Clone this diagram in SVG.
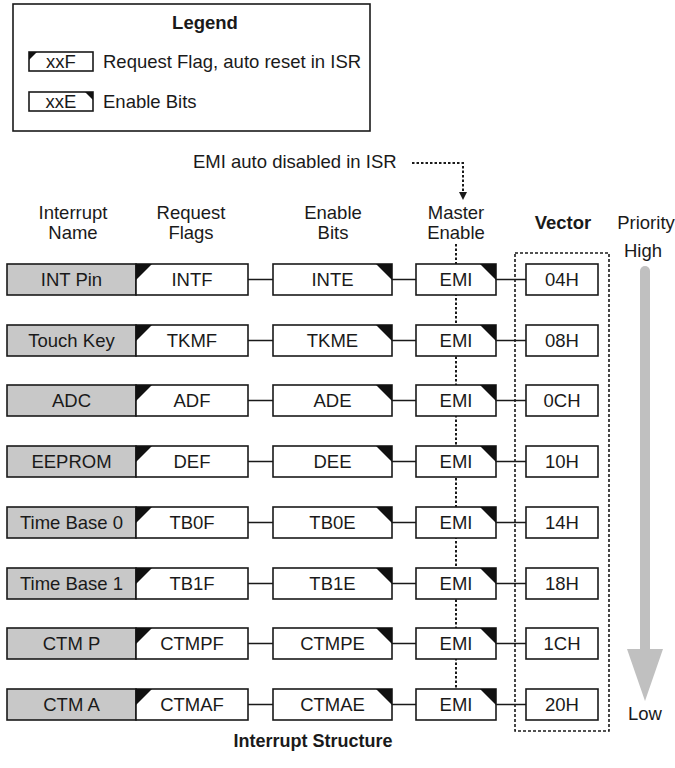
<svg xmlns="http://www.w3.org/2000/svg" width="675" height="768" viewBox="0 0 675 768">
<style>
text{font-family:"Liberation Sans",Arial,sans-serif;font-size:18.5px;fill:#1a1a1a}
.c{text-anchor:middle}
.b{font-weight:bold}
.box{fill:#fff;stroke:#1a1a1a;stroke-width:1.6}
.name{fill:#c8c8c8;stroke:#1a1a1a;stroke-width:1.6}
.tri{fill:#111}
.ln{stroke:#1a1a1a;stroke-width:1.6;fill:none}
.dot{stroke:#1a1a1a;stroke-width:2;stroke-dasharray:2.5 2;fill:none}
.dash{stroke:#1a1a1a;stroke-width:1.6;stroke-dasharray:3 2;fill:none}
</style>
<rect width="675" height="768" fill="#fff"/>
<g id="legend">
<rect x="13" y="4" width="357" height="127" fill="#fff" stroke="#1a1a1a" stroke-width="1.6"/>
<text class="c b" x="205" y="29">Legend</text>
<rect class="box" x="29" y="52" width="64" height="19"/>
<polygon class="tri" points="29,52 37,52 29,60"/>
<text class="c" x="61" y="68">xxF</text>
<text x="103" y="68">Request Flag, auto reset in ISR</text>
<rect class="box" x="29" y="92" width="64" height="19"/>
<polygon class="tri" points="85,92 93,92 93,100"/>
<text class="c" x="61" y="108">xxE</text>
<text x="103" y="108">Enable Bits</text>
</g>
<g id="headers">
<text class="c" x="73" y="219">Interrupt</text>
<text class="c" x="73" y="239">Name</text>
<text class="c" x="191" y="219">Request</text>
<text class="c" x="191" y="239">Flags</text>
<text class="c" x="333" y="219">Enable</text>
<text class="c" x="333" y="239">Bits</text>
<text class="c" x="456" y="219">Master</text>
<text class="c" x="456" y="239">Enable</text>
<text class="c b" x="563" y="229">Vector</text>
<text class="c" x="646" y="229">Priority</text>
<text class="c" x="643" y="257">High</text>
<text class="c" x="645" y="720">Low</text>
<text x="193" y="168">EMI auto disabled in ISR</text>
<text class="c b" x="313" y="747" style="font-size:18px">Interrupt Structure</text>
</g>
<g id="connectors">
<path class="dot" d="M412,163H463V193"/>
<polygon points="459,192 467,192 463,200" fill="#1a1a1a"/>
<path class="dot" d="M456,244V689"/>
<rect class="dash" x="515" y="253" width="94" height="478"/>
<path class="ln" d="M248,279.5H273M392,279.5H416M496,279.5H526"/>
<path class="ln" d="M248,340.5H273M392,340.5H416M496,340.5H526"/>
<path class="ln" d="M248,400.5H273M392,400.5H416M496,400.5H526"/>
<path class="ln" d="M248,461.5H273M392,461.5H416M496,461.5H526"/>
<path class="ln" d="M248,522.5H273M392,522.5H416M496,522.5H526"/>
<path class="ln" d="M248,583.5H273M392,583.5H416M496,583.5H526"/>
<path class="ln" d="M248,643.5H273M392,643.5H416M496,643.5H526"/>
<path class="ln" d="M248,704.5H273M392,704.5H416M496,704.5H526"/>
<path d="M640,650V271a5,5 0 0 1 10,0V650Z" fill="#c0c0c0"/>
<polygon points="627,649 663,649 645,701" fill="#c0c0c0"/>
</g>
<g id="row1" transform="translate(0,264)">
<rect class="name" x="7" y="0" width="129" height="31"/><text class="c" x="71.5" y="22">INT Pin</text>
<rect class="box" x="136" y="0" width="112" height="31"/><polygon class="tri" points="136,0 152,0 136,16"/><text class="c" x="192" y="22">INTF</text>
<rect class="box" x="273" y="0" width="119" height="31"/><polygon class="tri" points="376,0 392,0 392,16"/><text class="c" x="332.5" y="22">INTE</text>
<rect class="box" x="416" y="0" width="80" height="31"/><polygon class="tri" points="480,0 496,0 496,16"/><text class="c" x="456" y="22">EMI</text>
<rect class="box" x="526" y="0" width="72" height="31"/><text class="c" x="562" y="22">04H</text>
</g>
<g id="row2" transform="translate(0,325)">
<rect class="name" x="7" y="0" width="129" height="31"/><text class="c" x="71.5" y="22">Touch Key</text>
<rect class="box" x="136" y="0" width="112" height="31"/><polygon class="tri" points="136,0 152,0 136,16"/><text class="c" x="192" y="22">TKMF</text>
<rect class="box" x="273" y="0" width="119" height="31"/><polygon class="tri" points="376,0 392,0 392,16"/><text class="c" x="332.5" y="22">TKME</text>
<rect class="box" x="416" y="0" width="80" height="31"/><polygon class="tri" points="480,0 496,0 496,16"/><text class="c" x="456" y="22">EMI</text>
<rect class="box" x="526" y="0" width="72" height="31"/><text class="c" x="562" y="22">08H</text>
</g>
<g id="row3" transform="translate(0,385)">
<rect class="name" x="7" y="0" width="129" height="31"/><text class="c" x="71.5" y="22">ADC</text>
<rect class="box" x="136" y="0" width="112" height="31"/><polygon class="tri" points="136,0 152,0 136,16"/><text class="c" x="192" y="22">ADF</text>
<rect class="box" x="273" y="0" width="119" height="31"/><polygon class="tri" points="376,0 392,0 392,16"/><text class="c" x="332.5" y="22">ADE</text>
<rect class="box" x="416" y="0" width="80" height="31"/><polygon class="tri" points="480,0 496,0 496,16"/><text class="c" x="456" y="22">EMI</text>
<rect class="box" x="526" y="0" width="72" height="31"/><text class="c" x="562" y="22">0CH</text>
</g>
<g id="row4" transform="translate(0,446)">
<rect class="name" x="7" y="0" width="129" height="31"/><text class="c" x="71.5" y="22">EEPROM</text>
<rect class="box" x="136" y="0" width="112" height="31"/><polygon class="tri" points="136,0 152,0 136,16"/><text class="c" x="192" y="22">DEF</text>
<rect class="box" x="273" y="0" width="119" height="31"/><polygon class="tri" points="376,0 392,0 392,16"/><text class="c" x="332.5" y="22">DEE</text>
<rect class="box" x="416" y="0" width="80" height="31"/><polygon class="tri" points="480,0 496,0 496,16"/><text class="c" x="456" y="22">EMI</text>
<rect class="box" x="526" y="0" width="72" height="31"/><text class="c" x="562" y="22">10H</text>
</g>
<g id="row5" transform="translate(0,507)">
<rect class="name" x="7" y="0" width="129" height="31"/><text class="c" x="71.5" y="22">Time Base 0</text>
<rect class="box" x="136" y="0" width="112" height="31"/><polygon class="tri" points="136,0 152,0 136,16"/><text class="c" x="192" y="22">TB0F</text>
<rect class="box" x="273" y="0" width="119" height="31"/><polygon class="tri" points="376,0 392,0 392,16"/><text class="c" x="332.5" y="22">TB0E</text>
<rect class="box" x="416" y="0" width="80" height="31"/><polygon class="tri" points="480,0 496,0 496,16"/><text class="c" x="456" y="22">EMI</text>
<rect class="box" x="526" y="0" width="72" height="31"/><text class="c" x="562" y="22">14H</text>
</g>
<g id="row6" transform="translate(0,568)">
<rect class="name" x="7" y="0" width="129" height="31"/><text class="c" x="71.5" y="22">Time Base 1</text>
<rect class="box" x="136" y="0" width="112" height="31"/><polygon class="tri" points="136,0 152,0 136,16"/><text class="c" x="192" y="22">TB1F</text>
<rect class="box" x="273" y="0" width="119" height="31"/><polygon class="tri" points="376,0 392,0 392,16"/><text class="c" x="332.5" y="22">TB1E</text>
<rect class="box" x="416" y="0" width="80" height="31"/><polygon class="tri" points="480,0 496,0 496,16"/><text class="c" x="456" y="22">EMI</text>
<rect class="box" x="526" y="0" width="72" height="31"/><text class="c" x="562" y="22">18H</text>
</g>
<g id="row7" transform="translate(0,628)">
<rect class="name" x="7" y="0" width="129" height="31"/><text class="c" x="71.5" y="22">CTM P</text>
<rect class="box" x="136" y="0" width="112" height="31"/><polygon class="tri" points="136,0 152,0 136,16"/><text class="c" x="192" y="22">CTMPF</text>
<rect class="box" x="273" y="0" width="119" height="31"/><polygon class="tri" points="376,0 392,0 392,16"/><text class="c" x="332.5" y="22">CTMPE</text>
<rect class="box" x="416" y="0" width="80" height="31"/><polygon class="tri" points="480,0 496,0 496,16"/><text class="c" x="456" y="22">EMI</text>
<rect class="box" x="526" y="0" width="72" height="31"/><text class="c" x="562" y="22">1CH</text>
</g>
<g id="row8" transform="translate(0,689)">
<rect class="name" x="7" y="0" width="129" height="31"/><text class="c" x="71.5" y="22">CTM A</text>
<rect class="box" x="136" y="0" width="112" height="31"/><polygon class="tri" points="136,0 152,0 136,16"/><text class="c" x="192" y="22">CTMAF</text>
<rect class="box" x="273" y="0" width="119" height="31"/><polygon class="tri" points="376,0 392,0 392,16"/><text class="c" x="332.5" y="22">CTMAE</text>
<rect class="box" x="416" y="0" width="80" height="31"/><polygon class="tri" points="480,0 496,0 496,16"/><text class="c" x="456" y="22">EMI</text>
<rect class="box" x="526" y="0" width="72" height="31"/><text class="c" x="562" y="22">20H</text>
</g>
</svg>
